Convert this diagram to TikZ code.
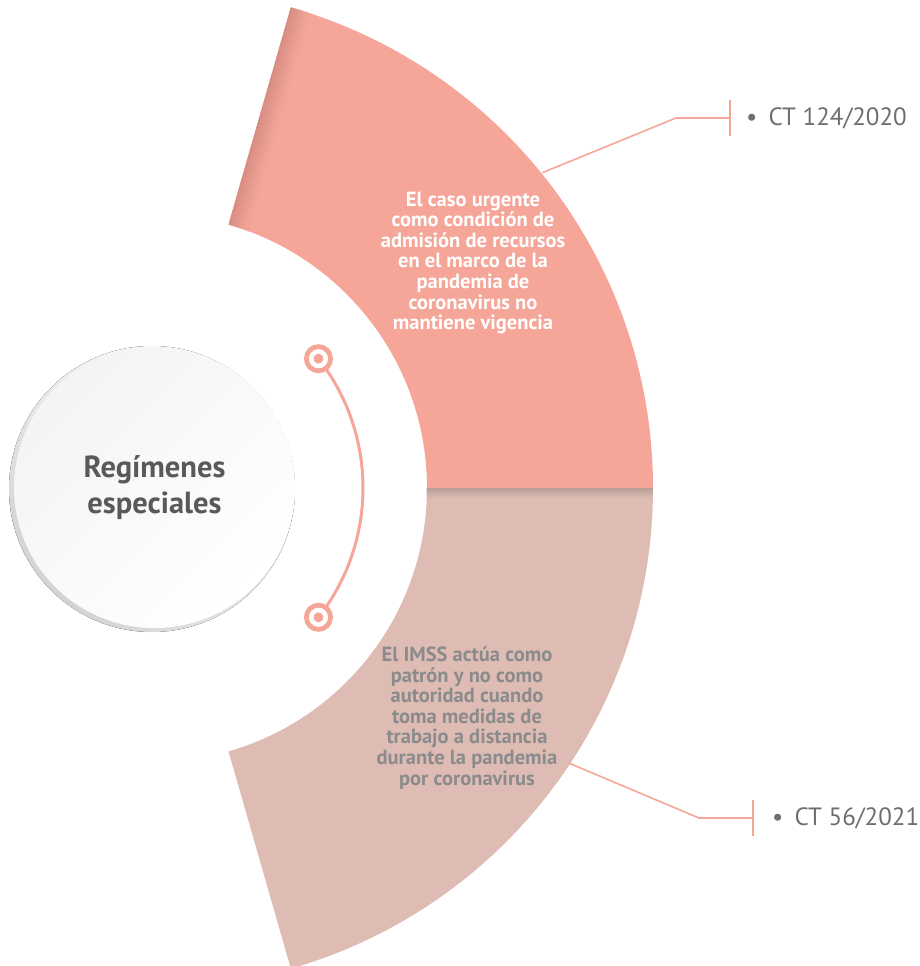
\documentclass[tikz,border=0pt]{standalone}
\usepackage{fontspec}
\setmainfont{PT Sans}
\usetikzlibrary{calc}

\definecolor{salmon}{HTML}{F5A698}
\definecolor{salmonedge}{HTML}{D48A81}
\definecolor{rose}{HTML}{DFBCB3}
\definecolor{roseshadow}{HTML}{B39893}
\definecolor{bodygray}{HTML}{8A8B8D}
\definecolor{labelgray}{HTML}{6D6E71}
\definecolor{titlegray}{HTML}{58595B}

\tikzset{
  link/.style={draw=salmon, line width=1.6},
  sectortext/.style={align=center, font=\fontsize{20.5}{20.6}\selectfont\bfseries},
  reflabel/.style={anchor=west, text=labelgray, inner sep=0, font=\fontsize{25}{30}\selectfont},
  ring/.style={circle, draw=salmon, line width=4.8, fill=white, inner sep=0, minimum size=24.2}
}

\begin{document}
\begin{tikzpicture}[x=1pt,y=1pt]
    \useasboundingbox (-153,-478) rectangle (766,488);

    % upper and lower sectors
    \fill[salmon] (0:274) -- (0:500) arc[start angle=0,end angle=74,radius=500]
        -- (74:274) arc[start angle=74,end angle=0,radius=274] -- cycle;
    \begin{scope}
        \clip (0:274) -- (0:500) arc[start angle=0,end angle=74,radius=500]
            -- (74:274) arc[start angle=74,end angle=0,radius=274] -- cycle;
        \foreach \i [evaluate=\i as \p using 100*(\i/22)^0.8] in {0,...,22}
            \draw[rotate=74, line width=1.2, salmon!\p!salmonedge] (260,-\i) -- (510,-\i);
    \end{scope}
    \fill[rose] (0:274) -- (0:500) arc[start angle=0,end angle=-74,radius=500]
        -- (-74:274) arc[start angle=-74,end angle=0,radius=274] -- cycle;
    \begin{scope}
        \clip (0:274) -- (0:500) arc[start angle=0,end angle=-74,radius=500]
            -- (-74:274) arc[start angle=-74,end angle=0,radius=274] -- cycle;
        \foreach \i [evaluate=\i as \p using 100*(\i/12)^0.8] in {0,...,12}
            \draw[line width=1.2, rose!\p!roseshadow] (260,-\i) -- (510,-\i);
    \end{scope}

    % central circle
    \fill[shade, top color=white, bottom color=gray!34, shading angle=-45] (-1,-1) circle (143);
    \node[circle, minimum size=281, inner sep=0, shade, top color=gray!9, bottom color=white,
        shading angle=45, align=center, text=titlegray,
        font=\fontsize{30.5}{36}\selectfont\bfseries] (hub) at (1.5,0.5) {Regímenes\\especiales};

    % arc with the two markers
    \coordinate (mk1) at (38:210);
    \coordinate (mk2) at (-38:210);
    \draw[salmon, line width=3] (mk1) arc[start angle=38,end angle=-38,radius=210];
    \node[ring] (up) at (mk1) {};
    \node[ring] (down) at (mk2) {};
    \fill[salmon] (up) circle (5);
    \fill[salmon] (down) circle (5);

    % texts in the sectors
    \node[sectortext, text=white] (urgent) at (320,225)
        {El caso urgente\\como condición de\\admisión de recursos\\en el marco de la\\pandemia de\\coronavirus no\\mantiene vigencia};
    \node[sectortext, text=bodygray] (imss) at (314,-230)
        {El IMSS actúa como\\patrón y no como\\autoridad cuando\\toma medidas de\\trabajo a distancia\\durante la pandemia\\por coronavirus};

    % connectors to the references
    \coordinate (topstart) at (39:501);
    \coordinate (topknee) at (523,370);
    \coordinate (toptick) at (577,370);
    \draw[link] (topstart) -- (topknee) -- (toptick);
    \draw[link] ($(toptick)+(0,18)$) -- ($(toptick)+(0,-18)$);
    \node[reflabel] (ct1) at (593,370) {\textbullet\hspace{11pt}CT 124/2020};

    \coordinate (botstart) at (-33.5:498);
    \coordinate (botknee) at (546,-330);
    \coordinate (bottick) at (600,-330);
    \draw[link] (botstart) -- (botknee) -- (bottick);
    \draw[link] ($(bottick)+(0,18)$) -- ($(bottick)+(0,-18)$);
    \node[reflabel] (ct2) at (619,-330) {\textbullet\hspace{11pt}CT 56/2021};
\end{tikzpicture}
\end{document}
